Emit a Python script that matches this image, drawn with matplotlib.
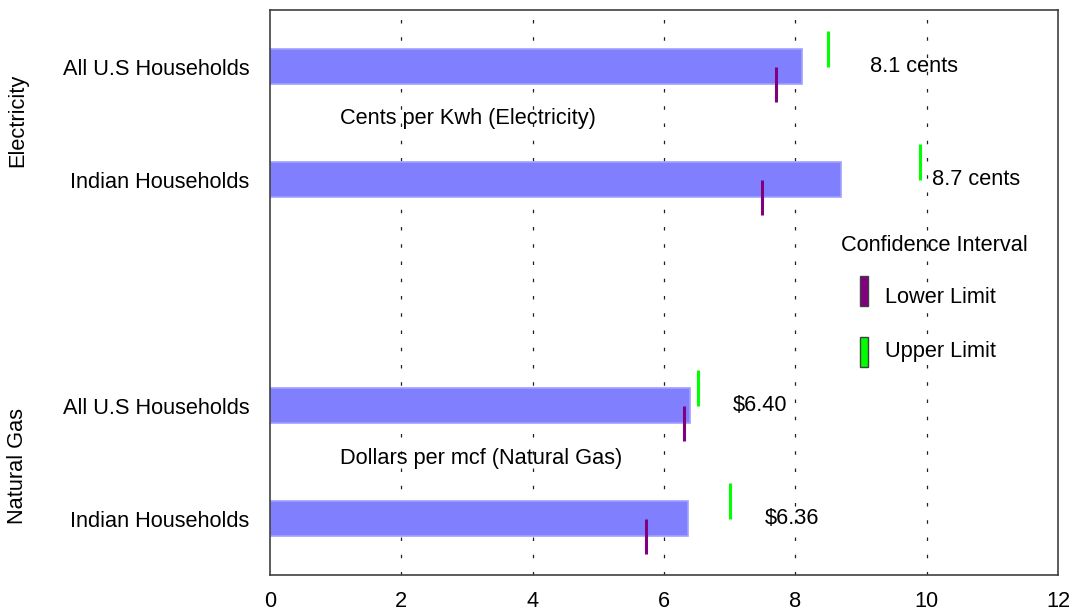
import matplotlib.pyplot as plt
from matplotlib.patches import Rectangle

plt.rcParams['font.family'] = ['Liberation Sans', 'DejaVu Sans']

# data
categories = ['All U.S Households', 'Indian Households',
              'All U.S Households', 'Indian Households']
positions = [1, 2, 4, 5]
values = [8.1, 8.7, 6.40, 6.36]
lower = [7.7, 7.5, 6.3, 5.73]
upper = [8.5, 9.9, 6.52, 7.0]
value_labels = ['8.1 cents', '8.7 cents', '$6.40', '$6.36']
label_x = [9.14, 10.08, 7.05, 7.54]
groups = ['Electricity', 'Natural Gas']
group_units = ['Cents per Kwh (Electricity)', 'Dollars per mcf (Natural Gas)']

fs = 15.7
fig = plt.figure(figsize=(10.73, 6.14), dpi=100)
ax = fig.add_axes([0.2516, 0.0635, 0.7344, 0.9202])

bh = 0.31
ax.barh(positions, values, height=bh, color='#8080ff', edgecolor='#a0a0ff',
        linewidth=1.2, zorder=2)

# confidence limits: lower below the bar centre, upper above
for p, lo, up in zip(positions, lower, upper):
    ax.plot([lo, lo], [p, p + bh], color='#800080', lw=2.2, zorder=3,
            solid_capstyle='butt')
    ax.plot([up, up], [p - bh, p], color='#00ff00', lw=2.2, zorder=3,
            solid_capstyle='butt')

for p, lx, t in zip(positions, label_x, value_labels):
    ax.text(lx, p, t, fontsize=fs, va='center', ha='left')

ax.text(1.07, 1.46, group_units[0], fontsize=fs, va='center', ha='left')
ax.text(1.07, 4.47, group_units[1], fontsize=fs, va='center', ha='left')

# legend drawn by hand
ax.text(8.7, 2.585, 'Confidence Interval', fontsize=fs, va='center', ha='left')
ax.add_patch(Rectangle((8.99, 2.85), 0.12, 0.265, facecolor='#800080',
                       edgecolor='#404040', lw=1, zorder=4))
ax.add_patch(Rectangle((8.99, 3.39), 0.12, 0.27, facecolor='#00ff00',
                       edgecolor='#404040', lw=1, zorder=4))
ax.text(9.37, 3.04, 'Lower Limit', fontsize=fs, va='center', ha='left')
ax.text(9.37, 3.52, 'Upper Limit', fontsize=fs, va='center', ha='left')

ax.set_xlim(0, 12)
ax.set_ylim(5.5, 0.5)
ax.set_xticks([0, 2, 4, 6, 8, 10, 12])
ax.set_yticks(positions)
ax.set_yticklabels(categories)
ax.tick_params(axis='y', length=0, pad=15, labelsize=fs)
ax.tick_params(axis='x', length=0, pad=11.5, labelsize=fs)
ax.grid(axis='x', color='#202020', linestyle=(0, (2.8, 11)), linewidth=0.9,
        zorder=1)
ax.set_axisbelow(True)
gl = ax.xaxis.get_gridlines()
gl[0].set_visible(False)
gl[-1].set_visible(False)
for s in ax.spines.values():
    s.set_color('#404040')
    s.set_linewidth(1.2)

# group labels
fig.text(18 / 1073, 1 - 120 / 614, groups[0], rotation=90, fontsize=fs,
         ha='center', va='center')
fig.text(18 / 1073, 1 - 466 / 614, groups[1], rotation=90, fontsize=fs,
         ha='center', va='center')

fig.savefig('out.png', dpi=100)
